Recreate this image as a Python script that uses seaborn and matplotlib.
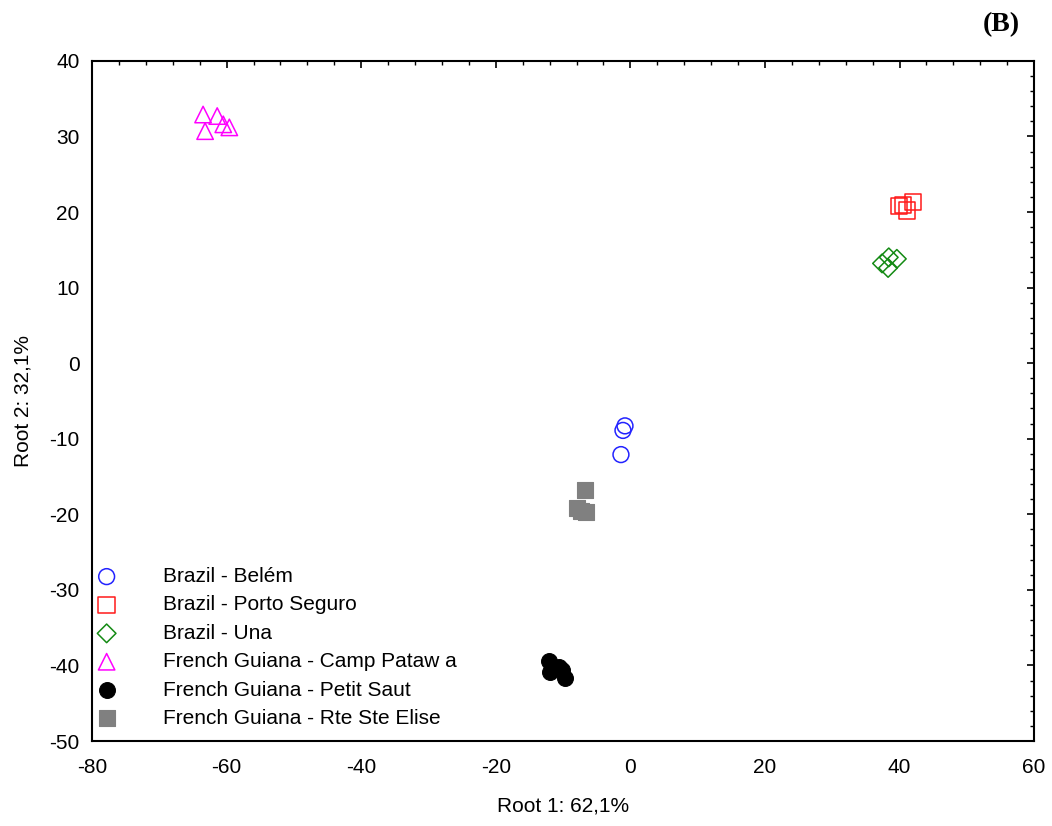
import matplotlib
matplotlib.use('Agg')
import matplotlib.pyplot as plt
import seaborn as sns
from matplotlib.ticker import MultipleLocator

# group names, styles and values
grupos = ['Brazil - Belém', 'Brazil - Porto Seguro', 'Brazil - Una',
          'French Guiana - Camp Pataw a', 'French Guiana - Petit Saut',
          'French Guiana - Rte Ste Elise']

belem_x = [-0.8, -1.1, -1.4]
belem_y = [-8.3, -8.9, -12.1]

porto_x = [39.9, 42.0, 41.1, 40.5]
porto_y = [20.8, 21.3, 20.2, 20.9]

una_x = [37.4, 38.4, 39.6, 38.3]
una_y = [13.2, 14.0, 13.8, 12.6]

camp_x = [-63.5, -61.4, -63.2, -60.5, -59.6]
camp_y = [32.9, 32.7, 30.7, 31.6, 31.2]

petit_x = [-12.1, -10.2, -11.9, -9.7, -10.6]
petit_y = [-39.4, -40.6, -40.9, -41.6, -40.2]

rte_x = [-6.7, -7.9, -6.6, -7.3]
rte_y = [-16.8, -19.2, -19.7, -19.6]

dados = [(belem_x, belem_y), (porto_x, porto_y), (una_x, una_y),
         (camp_x, camp_y), (petit_x, petit_y), (rte_x, rte_y)]
cores = ['#2323ff', '#ff1a1a', '#138a13', '#ff00ff', '#000000', '#808080']
marcadores = ['o', 's', 'D', '^', 'o', 's']
tamanhos = [130, 140, 90, 140, 130, 120]
cheio = [False, False, False, False, True, True]

sns.set_style('white')
plt.rcParams['font.family'] = ['Liberation Sans', 'DejaVu Sans']
plt.rcParams['axes.unicode_minus'] = False
plt.rcParams['text.color'] = 'black'
plt.rcParams['axes.labelcolor'] = 'black'

fig = plt.figure(figsize=(10.52, 8.26), dpi=100)
ax = fig.add_axes([0.0875, 0.1029, 0.8955, 0.8234])

for nome, (xs, ys), cor, m, s, f in zip(grupos, dados, cores, marcadores, tamanhos, cheio):
    if f:
        sns.scatterplot(x=xs, y=ys, ax=ax, marker=m, s=s, color=cor,
                        edgecolor=cor, linewidth=0.8, label=nome)
    else:
        sns.scatterplot(x=xs, y=ys, ax=ax, marker=m, s=s, color=cor,
                        facecolor='none', edgecolor=cor, linewidth=1.1, label=nome)

ax.set_xlim(-80, 60)
ax.set_ylim(-50, 40)
ax.xaxis.set_major_locator(MultipleLocator(20))
ax.xaxis.set_minor_locator(MultipleLocator(4))
ax.yaxis.set_major_locator(MultipleLocator(10))
ax.yaxis.set_minor_locator(MultipleLocator(2))
ax.tick_params(which='both', direction='in', top=True, right=True,
               colors='black', labelsize=15)
ax.tick_params(which='major', length=5, width=1.2)
ax.tick_params(which='minor', length=3, width=1.0)
ax.tick_params(axis='x', which='major', pad=12)
ax.tick_params(axis='y', which='major', pad=9)
for sp in ax.spines.values():
    sp.set_color('black')
    sp.set_linewidth(1.5)

ax.set_xlabel('Root 1: 62,1%', fontsize=15, labelpad=14)
ax.set_ylabel('Root 2: 32,1%', fontsize=15, labelpad=12)

leg = ax.legend(loc='lower left', frameon=False, fontsize=15,
                labelspacing=0.45, handlelength=0.8, handletextpad=2.3,
                borderpad=0.3, borderaxespad=0.0,
                bbox_to_anchor=(0.0, 0.01))

fig.text(0.952, 0.97, '(B)', family='Liberation Serif', fontweight='bold',
         fontsize=20, ha='center', va='center')

fig.savefig('out.png', dpi=100)
